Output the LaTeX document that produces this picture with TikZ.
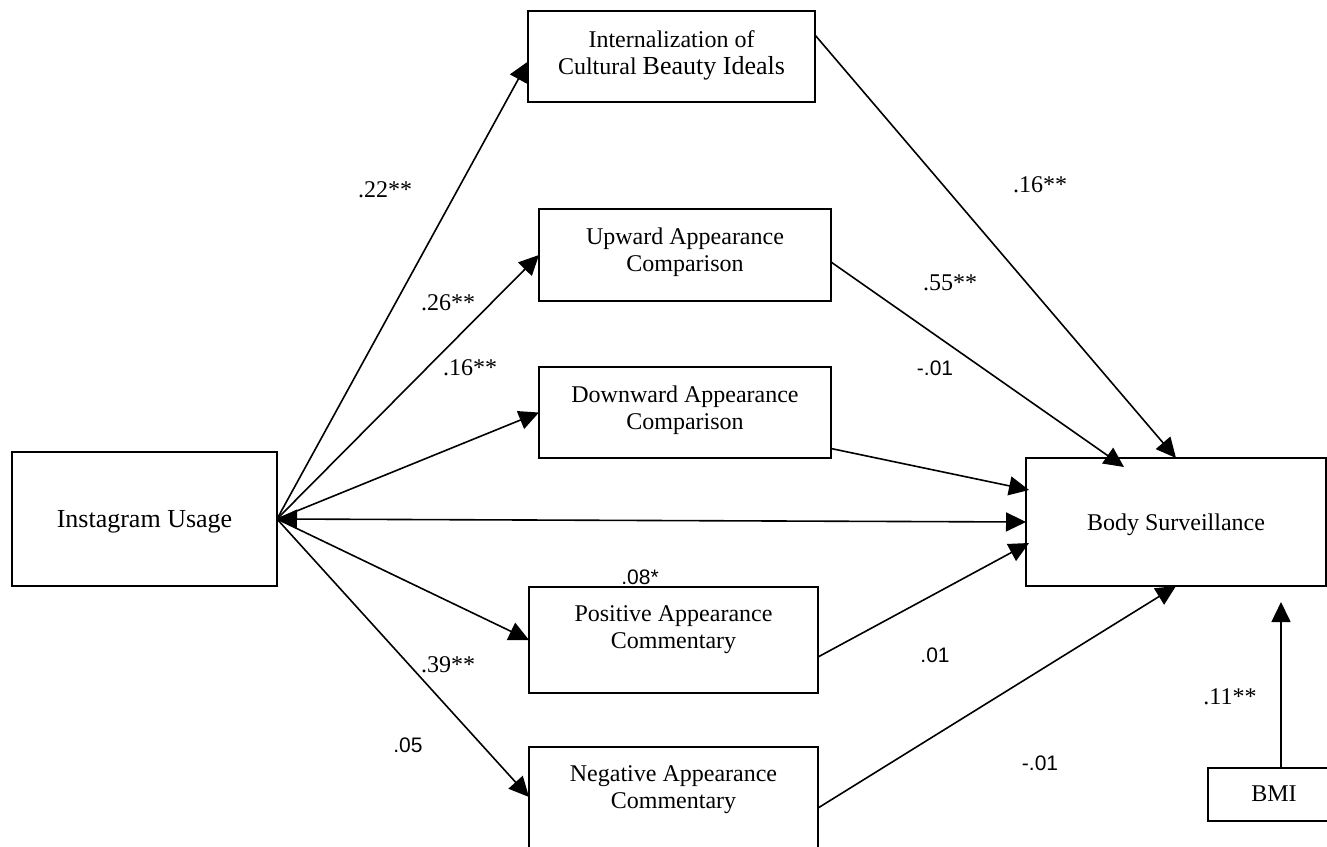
\documentclass[tikz,border=0pt]{standalone}
\usepackage{fontspec}
\setmainfont{Liberation Serif}
\newfontfamily\labsans{Liberation Sans}
\usetikzlibrary{arrows.meta,calc}
\begin{document}
\begin{tikzpicture}[x=1pt,y=-1pt,
  box/.style={draw, line width=1.8pt, inner sep=0pt, outer sep=0pt},
  txt/.style={align=center, font=\fontsize{24}{27}\selectfont, inner sep=0pt},
  arr/.style={line width=1.6pt, -{Triangle[length=20pt,width=19pt]}},
  lab/.style={font=\fontsize{24}{27}\selectfont, inner sep=0pt},
  labs/.style={font=\labsans\fontsize{21}{24}\selectfont, inner sep=0pt}]
\useasboundingbox (0,0) rectangle (1327,846);
\clip (0,0) rectangle (1327,846);
\fill[white] (0,0) rectangle (1327,846);
% boxes
\node[box, minimum width=265pt, minimum height=134pt] (insta) at (144.5,519) {};
\node[txt, font=\fontsize{26}{30}\selectfont] (instat) at (144.5,522) {Instagram Usage};
\node[box, minimum width=300pt, minimum height=128pt] (body) at (1176,522) {};
\node[txt] (bodyt) at (1176,525) {Body Surveillance};
\node[box, minimum width=287pt, minimum height=91pt] (intern) at (671.5,56.5) {};
\node[txt] (internt) at (671.5,55) {Internalization of\\Cultural {\fontsize{26}{27}\selectfont Beauty Ideals}};
\node[box, minimum width=292pt, minimum height=92pt] (up) at (685,255) {};
\node[txt] (upt) at (685,252) {Upward Appearance\\Comparison};
\node[box, minimum width=292pt, minimum height=91pt] (down) at (685,412.5) {};
\node[txt] (downt) at (685,410) {Downward Appearance\\Comparison};
\node[box, minimum width=289pt, minimum height=106pt] (pos) at (673.5,640) {};
\node[txt] (post) at (673.5,630) {Positive Appearance\\Commentary};
\node[box, minimum width=289pt, minimum height=106pt] (neg) at (673.5,800) {};
\node[txt] (negt) at (673.5,790) {Negative Appearance\\Commentary};
\node[box, minimum width=132pt, minimum height=53pt] (bmi) at (1274,794.5) {};
\node[txt] (bmit) at (1274,794) {BMI};
% connectors
\draw[arr] (insta.east) -- ($(intern.west)+(0,5)$);
\draw[arr] (insta.east) -- (up.west);
\draw[arr] (insta.east) -- (down.west);
\draw[arr] (insta.east) -- (pos.west);
\draw[arr] (insta.east) -- ($(neg.west)+(0,-3)$);
\draw[arr, {Triangle[length=20pt,width=19pt]}-{Triangle[length=20pt,width=19pt]}] (insta.east) -- (body.west);
\draw[arr] ($(intern.north east)+(0,24)$) -- ($(body.north)+(0,0)$);
\draw[arr] ($(up.east)+(0,7)$) -- ($(body.north)+(-52,9)$);
\draw[arr] ($(down.east)+(0,36)$) -- ($(body.west)+(3,-32)$);
\draw[arr] ($(pos.east)+(0,17)$) -- ($(body.west)+(3,21)$);
\draw[arr] ($(neg.east)+(0,8)$) -- (body.south);
\coordinate (bmitip) at (1281,602);
\draw[arr] ($(bmi.north)+(7,0)$) -- (bmitip);
% labels
\node[lab] (l1) at (385,190) {.22**};
\node[lab] (l2) at (448,303) {.26**};
\node[lab] (l3) at (470,368) {.16**};
\node[lab] (l4) at (950,283) {.55**};
\node[labs] (l5) at (935,368) {-.01};
\node[lab] (l6) at (1040,185) {.16**};
\node[labs] (l7) at (640,577) {.08*};
\node[lab] (l8) at (448,665) {.39**};
\node[labs] (l9) at (935,655) {.01};
\node[labs] (l10) at (408,745) {.05};
\node[labs] (l11) at (1040,763) {-.01};
\node[lab] (l12) at (1230,697) {.11**};
\end{tikzpicture}
\end{document}
